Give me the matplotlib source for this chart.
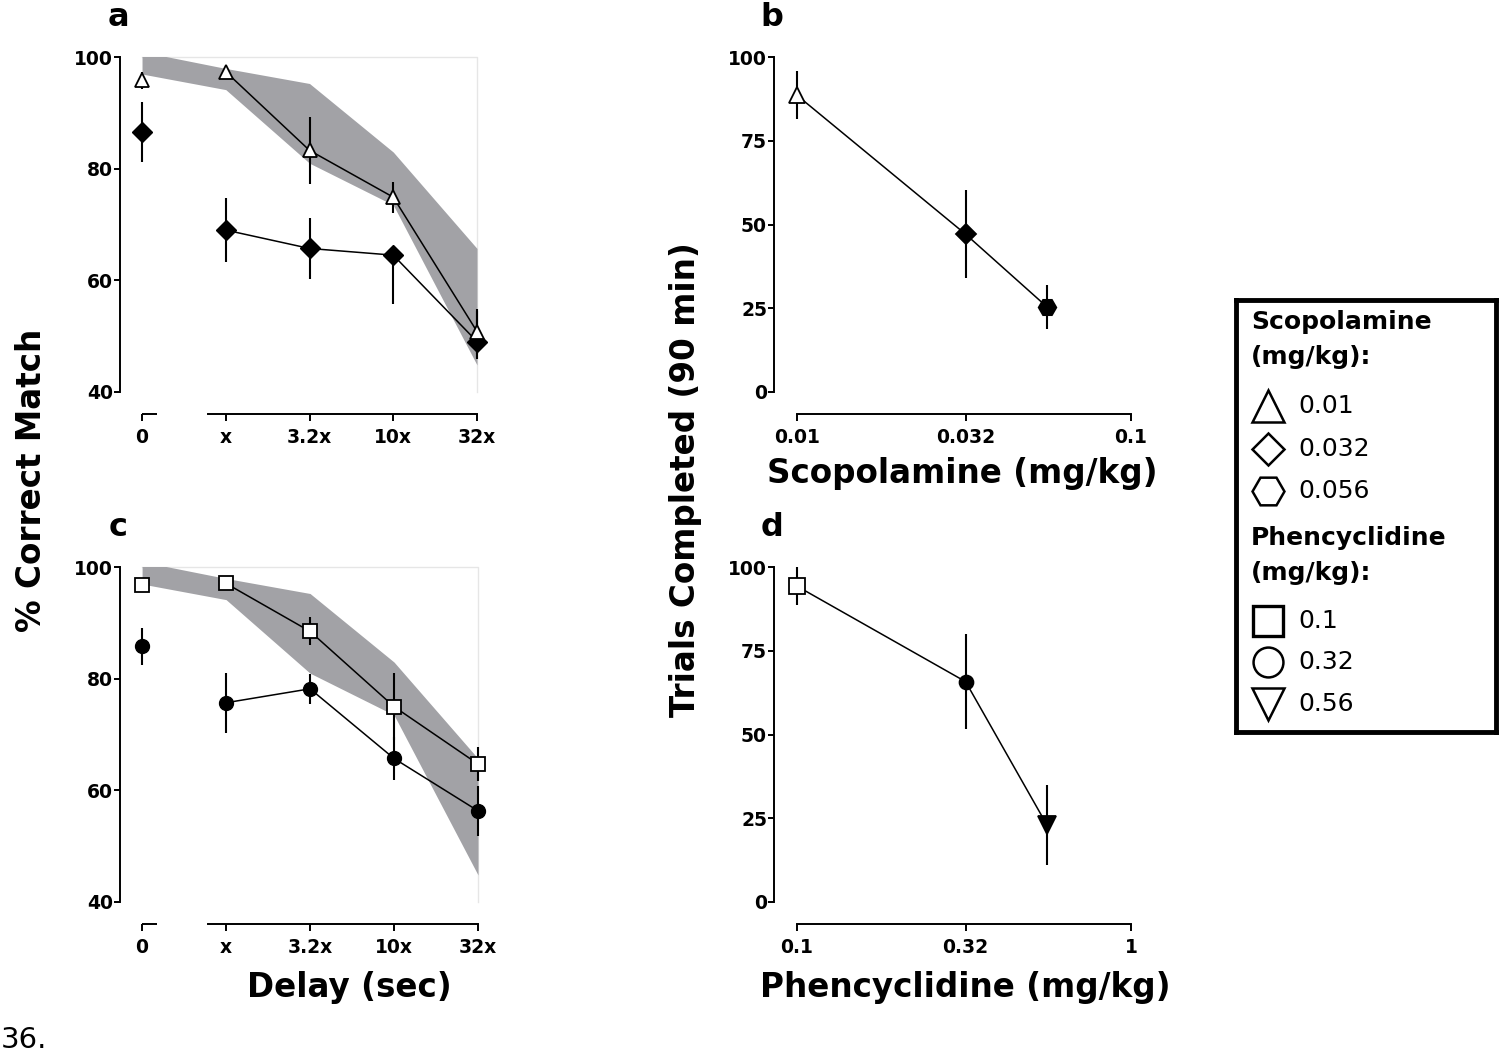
import matplotlib
matplotlib.use("Agg")
import matplotlib.pyplot as plt
import matplotlib.transforms as mtransforms

plt.rcParams['font.family'] = ['DejaVu Sans']

# ---- data ----
# delay panels (a, c): x positions and labels
delay_pos = [0, 1, 2, 3, 4]
delay_labels = ["0", "x", "3.2x", "10x", "32x"]

# control range (grey band) shared by a and c
control_upper = [101.0, 98.0, 95.3, 83.0, 65.7]
control_lower = [97.0, 94.2, 81.0, 73.5, 44.8]

# panel a: scopolamine
scop_001 = [95.9, 97.4, 83.3, 74.9, 50.8]
scop_001_err = [1.5, 0.7, 6.0, 2.8, 4.0]
scop_0032 = [86.6, 69.0, 65.7, 64.5, 49.0]
scop_0032_err_lo = [5.4, 5.8, 5.5, 8.8, 3.2]
scop_0032_err_hi = [5.4, 5.8, 5.5, 0.0, 5.5]

# panel c: phencyclidine
pcp_01 = [96.8, 97.1, 88.5, 75.0, 64.7]
pcp_01_err = [0.8, 0.8, 2.5, 6.0, 3.0]
pcp_032 = [85.8, 75.7, 78.2, 65.7, 56.3]
pcp_032_err = [3.3, 5.4, 2.7, 3.8, 4.5]

# panel b: trials completed vs scopolamine dose
scop_dose = [0.01, 0.032, 0.056]
scop_trials = [88.7, 47.1, 25.4]
scop_trials_err = [7.2, 13.2, 6.6]
scop_ticks = [0.01, 0.032, 0.1]
scop_ticklabels = ["0.01", "0.032", "0.1"]

# panel d: trials completed vs phencyclidine dose
pcp_dose = [0.1, 0.32, 0.56]
pcp_trials = [94.4, 65.8, 23.0]
pcp_trials_err = [5.7, 14.2, 12.0]
pcp_ticks = [0.1, 0.32, 1.0]
pcp_ticklabels = ["0.1", "0.32", "1"]

# legend entries
leg_scop_labels = ["0.01", "0.032", "0.056"]
leg_scop_markers = ["^", "D", "H"]
leg_pcp_labels = ["0.1", "0.32", "0.56"]
leg_pcp_markers = ["s", "o", "v"]

W, H = 1500, 1051
fig = plt.figure(figsize=(W / 100, H / 100), dpi=100)


def fx(px):
    return px / W


def fy(py):
    return 1 - py / H


def box(left, top, right, bottom):
    return [fx(left), fy(bottom), (right - left) / W, (bottom - top) / H]


TICK_FS = 13.5
LABEL_FS = 23.5
LW = 1.4


def style_axes(ax):
    for s in ["top", "right"]:
        ax.spines[s].set_visible(False)
    ax.spines["left"].set_linewidth(LW)
    ax.spines["bottom"].set_linewidth(LW)
    ax.spines["bottom"].set_position(("outward", 22 * 0.72))
    ax.tick_params(axis="y", direction="out", length=4, width=LW, pad=1, labelsize=TICK_FS)
    ax.tick_params(axis="x", direction="out", length=5, width=LW, pad=5, labelsize=TICK_FS)
    for t in ax.get_xticklabels() + ax.get_yticklabels():
        t.set_fontweight("bold")


def delay_panel(ax, open_y, open_err, open_marker, open_ms,
                fill_y, fill_err, fill_marker, fill_ms):
    ax.set_xlim(-0.263, 4)
    ax.set_ylim(40, 100)
    ax.fill_between(delay_pos, control_lower, control_upper, color="#a2a2a6", lw=0, zorder=1)
    # faint frame
    ax.plot([0, 4, 4], [100, 100, 40], color="#e6e6e6", lw=1, zorder=0.5, clip_on=False)

    ax.errorbar(delay_pos, fill_y, yerr=fill_err, fmt="none", ecolor="k", elinewidth=1.5,
                capsize=0, zorder=3, clip_on=False)
    ax.errorbar(delay_pos, open_y, yerr=open_err, fmt="none", ecolor="k", elinewidth=1.5,
                capsize=0, zorder=3, clip_on=False)
    ax.plot(delay_pos[1:], fill_y[1:], color="k", lw=1.1, zorder=4, clip_on=False)
    ax.plot(delay_pos[1:], open_y[1:], color="k", lw=1.1, zorder=4, clip_on=False)
    ax.plot(delay_pos, fill_y, ls="none", marker=fill_marker, ms=fill_ms, mfc="k", mec="k",
            mew=1, zorder=5, clip_on=False)
    ax.plot(delay_pos, open_y, ls="none", marker=open_marker, ms=open_ms, mfc="white", mec="k",
            mew=1.3, zorder=6, clip_on=False)

    ax.set_yticks([40, 60, 80, 100])
    ax.set_xticks(delay_pos)
    ax.set_xticklabels(delay_labels)
    style_axes(ax)
    ax.spines["left"].set_bounds(40, 100)
    ax.spines["bottom"].set_bounds(0.79, 4)
    # short piece of the broken x axis under "0"
    trans = mtransforms.blended_transform_factory(ax.transData, ax.transAxes)
    ax.plot([0, 0.18], [-22 / 335, -22 / 335], color="k", lw=LW, transform=trans,
            clip_on=False, solid_capstyle="butt")


def dose_panel(ax, dose, trials, err, markers, fills, sizes, ticks, ticklabels, xmin):
    ax.set_xscale("log")
    ax.set_xlim(xmin, ticks[-1])
    ax.set_ylim(0, 100)
    ax.errorbar(dose, trials, yerr=err, fmt="none", ecolor="k", elinewidth=1.5, capsize=0,
                zorder=3, clip_on=False)
    ax.plot(dose, trials, color="k", lw=1.1, zorder=4)
    for xv, yv, m, f, s in zip(dose, trials, markers, fills, sizes):
        ax.plot([xv], [yv], ls="none", marker=m, ms=s, mfc=f, mec="k", mew=1.3, zorder=5,
                clip_on=False)
    ax.set_yticks([0, 25, 50, 75, 100])
    ax.set_xticks(ticks)
    ax.set_xticklabels(ticklabels)
    ax.xaxis.set_minor_locator(matplotlib.ticker.NullLocator())
    style_axes(ax)
    ax.spines["left"].set_bounds(0, 100)
    ax.spines["bottom"].set_bounds(ticks[0], ticks[-1])


ax_a = fig.add_axes(box(120, 57.3, 477, 391.7))
delay_panel(ax_a, scop_001, scop_001_err, "^", 10,
            scop_0032, [scop_0032_err_lo, scop_0032_err_hi], "D", 10)

ax_c = fig.add_axes(box(120, 567.3, 478, 901.7))
delay_panel(ax_c, pcp_01, pcp_01_err, "s", 10.5,
            pcp_032, pcp_032_err, "o", 10)

ax_b = fig.add_axes(box(774, 57.3, 1131, 391.7))
dose_panel(ax_b, scop_dose, scop_trials, scop_trials_err, ["^", "D", "H"],
           ["white", "k", "k"], [11, 10, 12.7], scop_ticks, scop_ticklabels, 0.00855)

ax_d = fig.add_axes(box(774, 567.3, 1131, 901.7))
dose_panel(ax_d, pcp_dose, pcp_trials, pcp_trials_err, ["s", "o", "v"],
           ["white", "k", "k"], [11.3, 10, 12.7], pcp_ticks, pcp_ticklabels, 0.0855)

# panel letters
for letter, px, py in [("a", 118, 17), ("b", 772, 17), ("c", 118, 528), ("d", 772, 527)]:
    fig.text(fx(px), fy(py), letter, fontsize=23, fontweight="bold", ha="center", va="center")

# axis labels
fig.text(fx(32), fy(480), "% Correct Match", rotation=90, fontsize=LABEL_FS,
         fontweight="bold", ha="center", va="center")
fig.text(fx(685), fy(480), "Trials Completed (90 min)", rotation=90, fontsize=LABEL_FS,
         fontweight="bold", ha="center", va="center")
fig.text(fx(349), fy(987), "Delay (sec)", fontsize=LABEL_FS, fontweight="bold",
         ha="center", va="center")
fig.text(fx(962), fy(473), "Scopolamine (mg/kg)", fontsize=LABEL_FS, fontweight="bold",
         ha="center", va="center")
fig.text(fx(965), fy(987), "Phencyclidine (mg/kg)", fontsize=LABEL_FS, fontweight="bold",
         ha="center", va="center")

fig.text(fx(1), fy(1040), "36.", fontsize=21, ha="left", va="center")

# legend box
lax = fig.add_axes(box(1236, 300, 1496, 732))
lax.set_xlim(1236, 1496)
lax.set_ylim(732, 300)
lax.set_xticks([])
lax.set_yticks([])
for s in lax.spines.values():
    s.set_linewidth(3.5)

lax.text(1251, 322, "Scopolamine", fontsize=18, fontweight="bold", va="center")
lax.text(1251, 357, "(mg/kg):", fontsize=18, fontweight="bold", va="center")
leg_sizes = {"^": 23, "D": 16, "H": 23, "s": 22, "o": 21.5, "v": 23}
for lab, m, py in zip(leg_scop_labels, leg_scop_markers, [406, 449, 491]):
    lax.plot([1268], [py], marker=m, ms=leg_sizes[m], mfc="white", mec="k", mew=1.8,
             ls="none", clip_on=False)
    lax.text(1298, py, lab, fontsize=18, va="center")
lax.text(1251, 538, "Phencyclidine", fontsize=18, fontweight="bold", va="center")
lax.text(1251, 573, "(mg/kg):", fontsize=18, fontweight="bold", va="center")
for lab, m, py in zip(leg_pcp_labels, leg_pcp_markers, [621, 662, 704]):
    lax.plot([1268], [py], marker=m, ms=leg_sizes[m], mfc="white", mec="k",
             mew=2.4 if m == "s" else 1.8, ls="none", clip_on=False)
    lax.text(1298, py, lab, fontsize=18, va="center")

fig.savefig("out.png", dpi=100)
